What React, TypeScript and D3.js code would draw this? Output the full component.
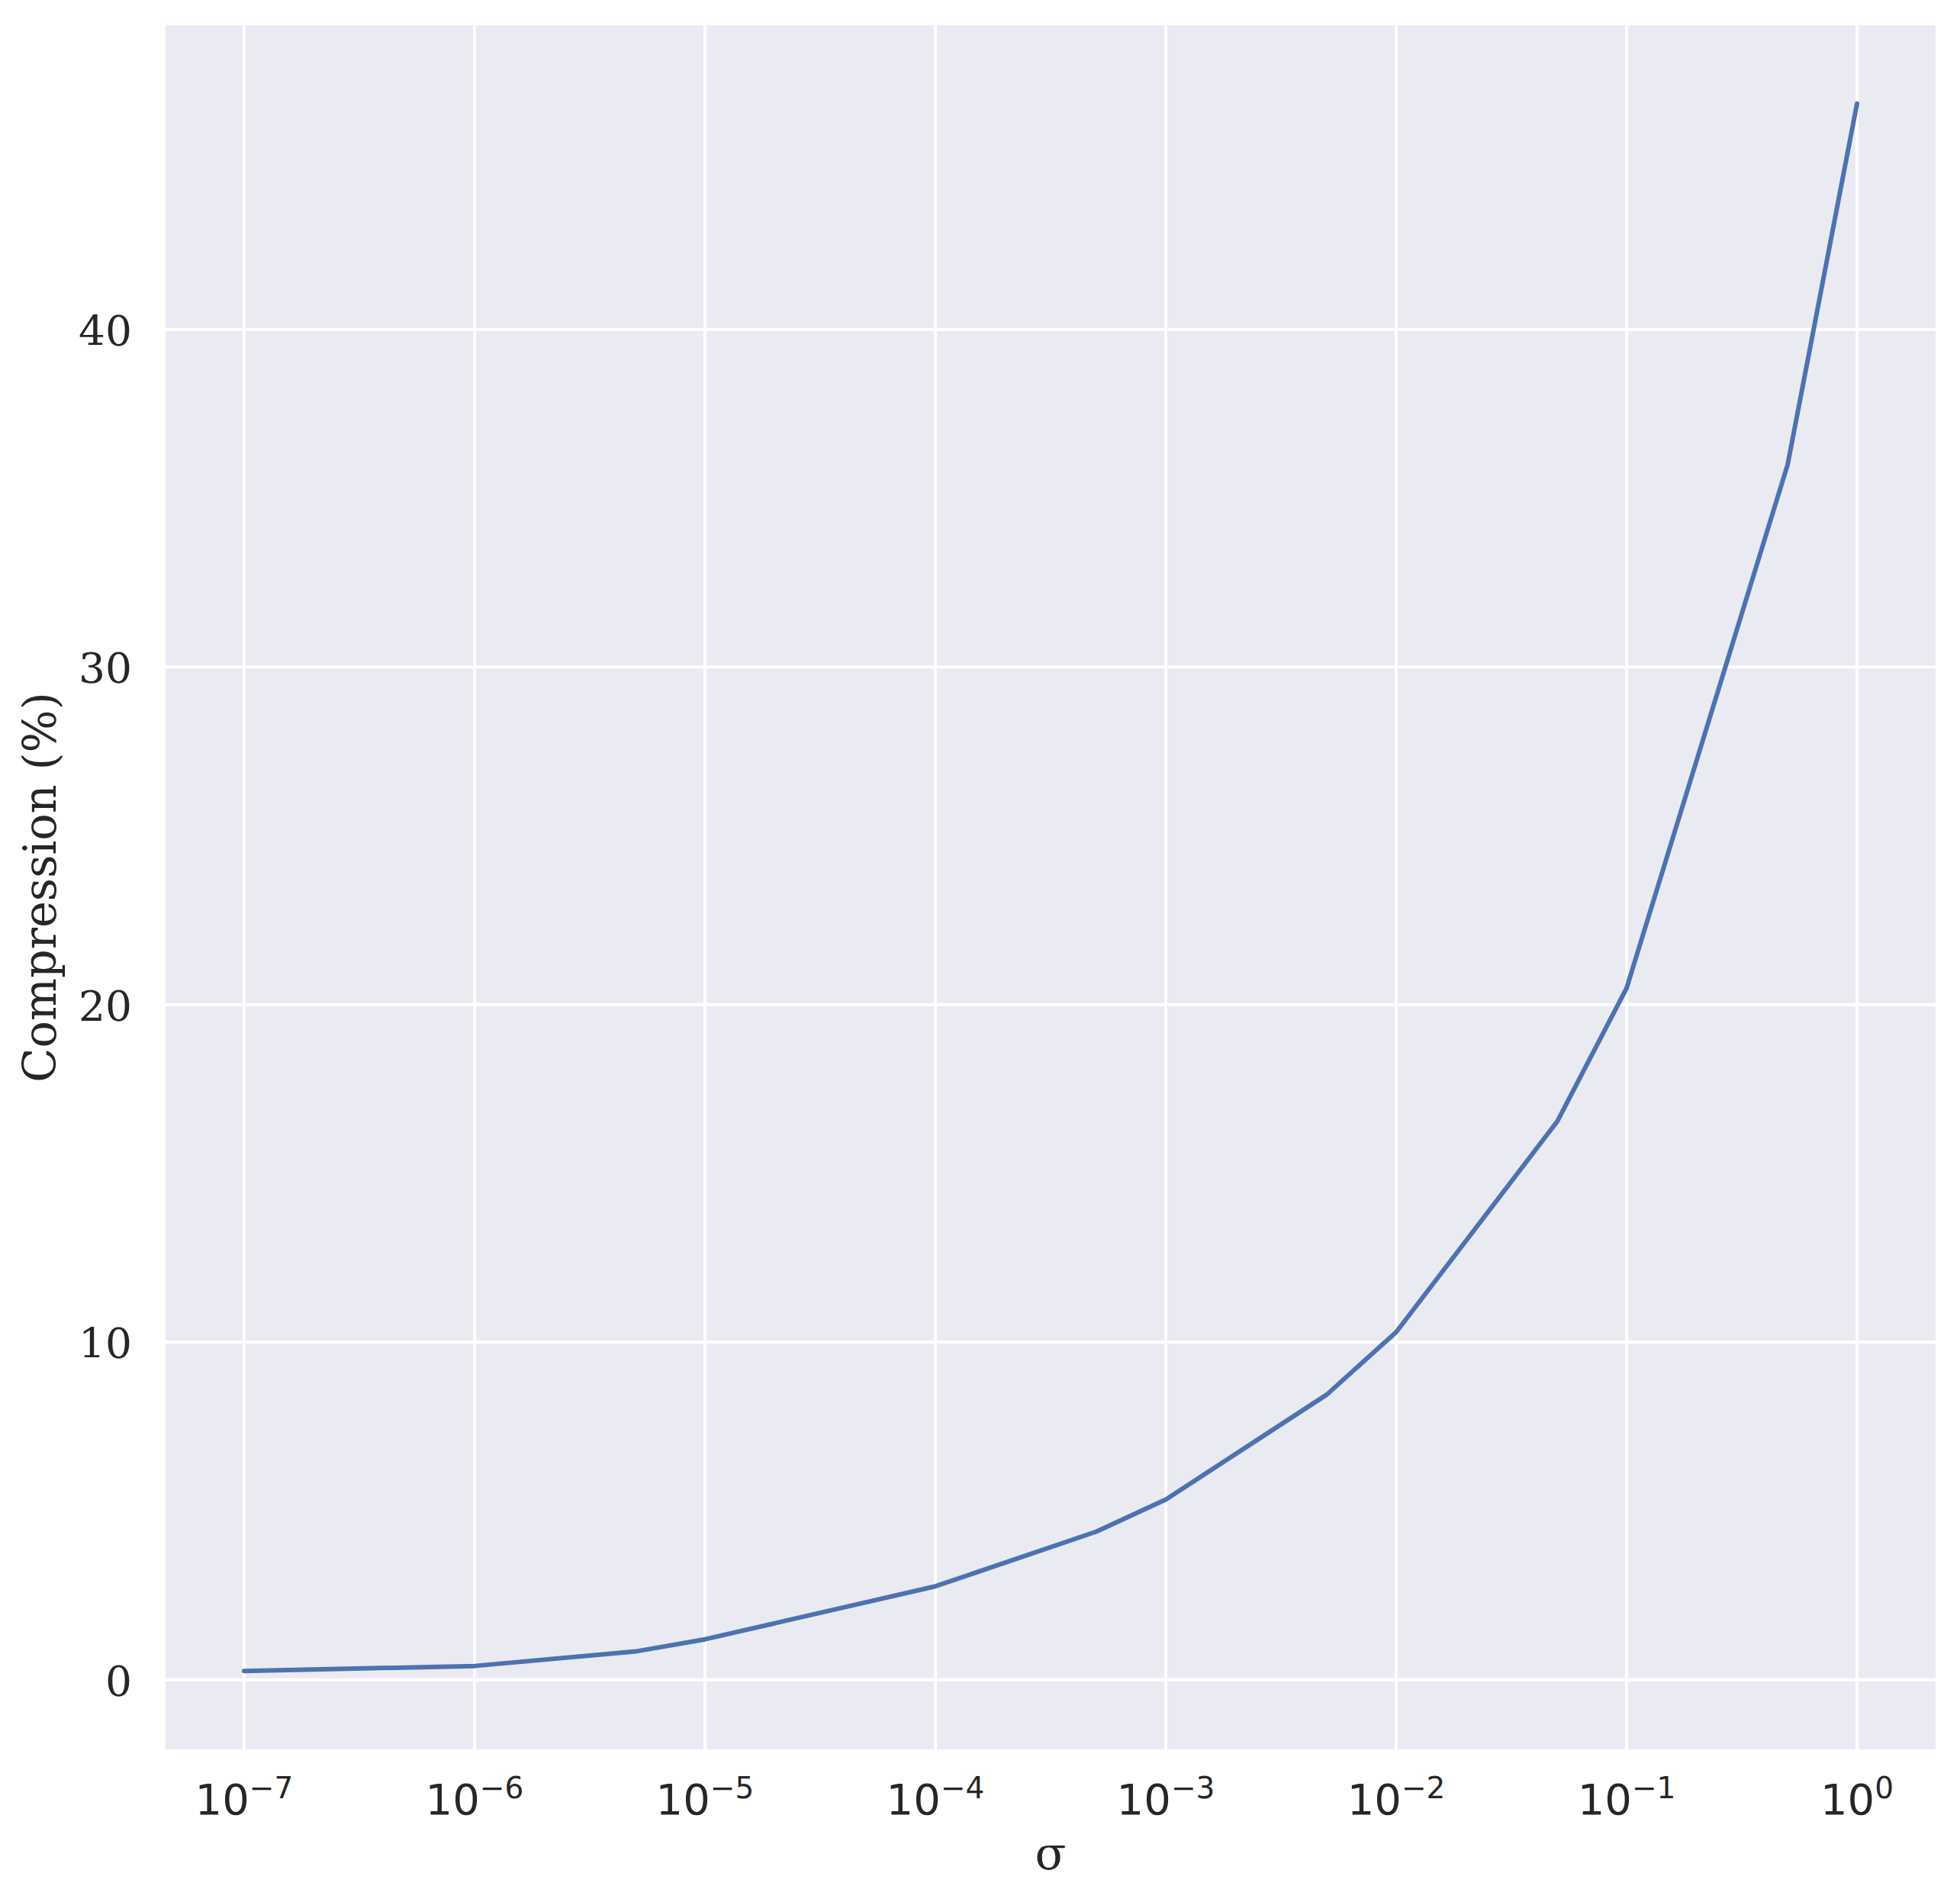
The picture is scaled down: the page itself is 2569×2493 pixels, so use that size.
import React from "react";
import * as d3 from "d3";

const sigmaValues: number[] = [1e-7, 1e-6, 5e-6, 1e-5, 1e-4, 5e-4, 1e-3, 5e-3, 1e-2, 5e-2, 1e-1, 5e-1, 1];
const compressionValues: number[] = [0.26, 0.41, 0.84, 1.2, 2.77, 4.39, 5.34, 8.45, 10.3, 16.54, 20.49, 36.0, 46.69];
const xTickExponents: number[] = [-7, -6, -5, -4, -3, -2, -1, 0];
const yTickValues: number[] = [0, 10, 20, 30, 40];
const xLabel = "σ";
const yLabel = "Compression (%)";

const W = 2569;
const H = 2493;
const margin = { left: 217, right: W - 2537, top: 33, bottom: H - 2293 };
const TEXT = "#262626";

export default function App() {
  const innerLeft = margin.left;
  const innerRight = W - margin.right;
  const innerTop = margin.top;
  const innerBottom = H - margin.bottom;

  const lxMin = Math.log10(d3.min(sigmaValues)!);
  const lxMax = Math.log10(d3.max(sigmaValues)!);
  const lxPad = (lxMax - lxMin) * 0.0487;
  const x = d3
    .scaleLog()
    .domain([Math.pow(10, lxMin - lxPad), Math.pow(10, lxMax + lxPad)])
    .range([innerLeft, innerRight]);

  const yMin = d3.min(compressionValues)!;
  const yMax = d3.max(compressionValues)!;
  const yPad = (yMax - yMin) * 0.05;
  const y = d3
    .scaleLinear()
    .domain([yMin - yPad, yMax + yPad])
    .range([innerBottom, innerTop]);

  const data = sigmaValues.map((s, i) => ({ s, c: compressionValues[i] }));
  const line = d3
    .line<{ s: number; c: number }>()
    .x((d) => x(d.s))
    .y((d) => y(d.c));

  return (
    <svg
      width={W}
      height={H}
      style={{ position: "absolute", left: 0, top: 0, background: "#ffffff" }}
    >
      <rect
        x={innerLeft}
        y={innerTop}
        width={innerRight - innerLeft}
        height={innerBottom - innerTop}
        fill="#eaeaf2"
      />
      <g>
        {xTickExponents.map((e) => (
          <line
            key={"gx" + e}
            x1={x(Math.pow(10, e))}
            x2={x(Math.pow(10, e))}
            y1={innerTop}
            y2={innerBottom}
            stroke="#ffffff"
            strokeWidth={4}
          />
        ))}
        {yTickValues.map((v) => (
          <line
            key={"gy" + v}
            x1={innerLeft}
            x2={innerRight}
            y1={y(v)}
            y2={y(v)}
            stroke="#ffffff"
            strokeWidth={4}
          />
        ))}
      </g>
      <path
        d={line(data) || ""}
        fill="none"
        stroke="#4c72b0"
        strokeWidth={6}
        strokeLinecap="round"
        strokeLinejoin="round"
      />
      <g fill={TEXT}>
        {xTickExponents.map((e) => (
          <text
            key={"tx" + e}
            x={x(Math.pow(10, e))}
            y={innerBottom + 85}
            textAnchor="middle"
            fontFamily="DejaVu Sans"
            fontSize={56}
          >
            10
            <tspan fontSize={39} dy={-21}>
              {e < 0 ? "\u2212" + Math.abs(e) : String(e)}
            </tspan>
          </text>
        ))}
        {yTickValues.map((v) => (
          <text
            key={"ty" + v}
            x={173}
            y={y(v) + 21}
            textAnchor="end"
            fontFamily="DejaVu Serif"
            fontSize={55}
          >
            {v}
          </text>
        ))}
        <text
          x={(innerLeft + innerRight) / 2}
          y={2450}
          textAnchor="middle"
          fontFamily="DejaVu Serif"
          fontSize={60}
        >
          {xLabel}
        </text>
        <text
          transform={`translate(73, ${(innerTop + innerBottom) / 2}) rotate(-90)`}
          textAnchor="middle"
          fontFamily="DejaVu Serif"
          fontSize={59}
        >
          {yLabel}
        </text>
      </g>
    </svg>
  );
}
